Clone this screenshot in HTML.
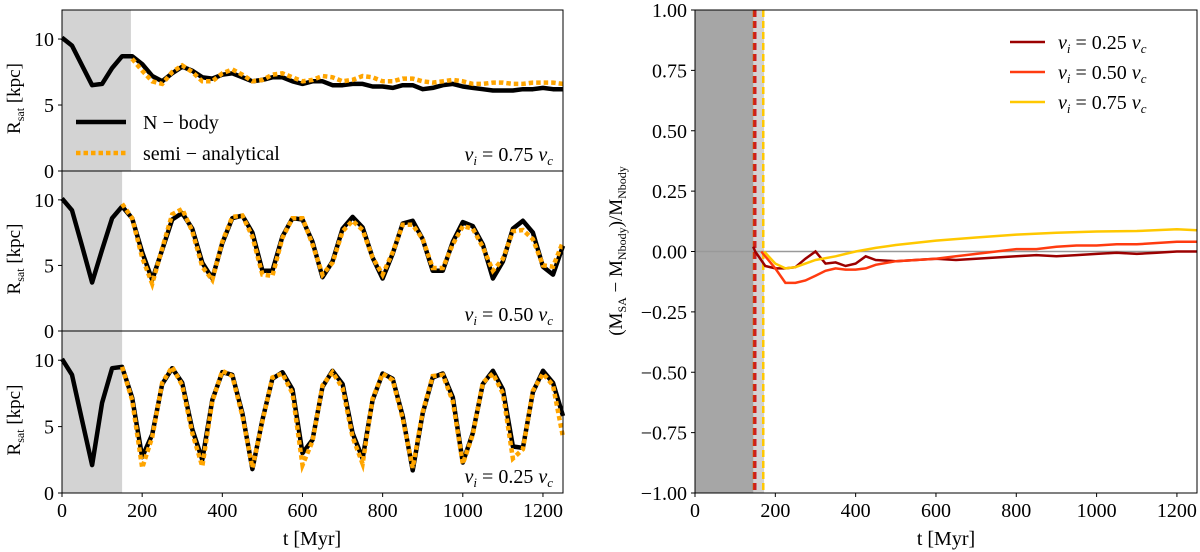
<!DOCTYPE html>
<html><head><meta charset="utf-8"><style>
html,body{margin:0;padding:0;background:#fff}
svg{display:block;font-family:"Liberation Serif",serif}
</style></head><body>
<svg id="fig" width="1200" height="552" viewBox="0 0 1200 552" xmlns="http://www.w3.org/2000/svg"></svg>
<script>
// ---- data ----
const tGrid = [0,25,50,75,100,125,150,175,200,225,250,275,300,325,350,375,400,425,450,475,500,525,550,575,600,625,650,675,700,725,750,775,800,825,850,875,900,925,950,975,1000,1025,1050,1075,1100,1125,1150,1175,1200,1225,1250];
const nbody075 = [10.1,9.5,8.0,6.5,6.6,7.8,8.7,8.7,8.1,7.2,6.8,7.4,7.9,7.6,7.1,7.0,7.3,7.4,7.1,6.8,6.9,7.1,7.1,6.8,6.6,6.8,6.8,6.5,6.5,6.6,6.6,6.4,6.4,6.3,6.5,6.5,6.2,6.3,6.5,6.6,6.4,6.3,6.2,6.1,6.1,6.1,6.2,6.2,6.3,6.2,6.2];
const sa075 = [null,null,null,null,null,null,null,8.5,7.6,6.8,6.6,7.5,8.0,7.5,6.8,6.8,7.4,7.7,7.3,6.8,6.9,7.3,7.4,7.1,6.8,6.9,7.2,7.1,6.8,6.9,7.2,7.1,6.8,6.8,7.0,7.0,6.8,6.7,6.8,6.9,6.8,6.6,6.6,6.7,6.7,6.6,6.6,6.7,6.7,6.7,6.6];
const nbody050 = [10.1,9.2,6.5,3.7,6.2,8.6,9.5,8.6,6.0,3.9,6.2,8.5,9.0,7.8,5.2,4.0,6.7,8.6,8.8,7.5,4.6,4.6,7.2,8.6,8.5,6.8,4.1,5.3,7.8,8.7,7.9,5.6,4.0,5.9,8.2,8.4,7.0,4.6,4.6,6.8,8.3,8.0,6.6,4.0,5.3,7.8,8.4,7.5,4.9,4.3,6.5];
const sa050 = [null,null,null,null,null,null,9.7,8.6,5.6,3.6,6.3,8.9,9.3,7.6,4.9,3.9,6.8,8.7,8.8,7.2,4.3,4.2,7.1,8.6,8.6,6.6,4.3,5.2,7.6,8.4,7.7,5.6,4.3,6.0,8.1,8.1,7.0,4.8,4.8,6.6,8.0,7.8,6.4,4.6,5.5,7.6,7.7,7.0,5.0,4.9,6.8];
const nbody025 = [10.1,8.9,5.5,2.1,6.8,9.4,9.5,7.2,2.7,4.4,8.2,9.4,8.3,4.8,2.5,7.0,9.1,8.9,6.0,1.8,5.5,8.6,9.1,7.8,3.0,4.0,8.0,9.2,8.2,4.5,2.6,7.0,9.0,8.6,5.8,1.7,6.0,8.7,9.0,7.2,2.3,4.5,8.2,9.2,7.8,3.5,3.4,7.6,9.2,8.3,5.8];
const sa025 = [null,null,null,null,null,null,9.5,7.0,1.9,4.2,8.3,9.5,8.1,4.5,2.0,6.9,9.2,8.8,5.8,1.9,5.4,8.7,9.0,7.5,2.1,3.9,8.1,9.1,7.9,4.2,2.2,7.1,9.0,8.5,5.6,1.9,6.1,8.8,8.9,6.9,2.2,4.4,8.3,9.0,7.5,2.6,3.3,7.7,9.0,8.1,4.2];
const ticksX = [0,200,400,600,800,1000,1200];
const ticksYLeft = [0,5,10];
const ticksYRight = [-1,-0.75,-0.5,-0.25,0,0.25,0.5,0.75,1];
const tickLabelsRight = ["−1.00","−0.75","−0.50","−0.25","0.00","0.25","0.50","0.75","1.00"];
const t025 = [145,150,175,200,225,250,275,300,325,350,375,400,425,450,500,550,600,650,700,750,800,850,900,950,1000,1050,1100,1150,1200,1250];
const d025 = [0.02,0.0,-0.06,-0.07,-0.07,-0.065,-0.03,0.0,-0.05,-0.045,-0.06,-0.05,-0.02,-0.035,-0.04,-0.035,-0.03,-0.035,-0.03,-0.025,-0.02,-0.015,-0.02,-0.015,-0.01,-0.005,-0.01,-0.005,0.0,0.0];
const t050 = [165,200,225,250,275,300,325,350,375,400,425,450,500,550,600,650,700,750,800,850,900,950,1000,1050,1100,1150,1200,1250];
const d050 = [0.0,-0.07,-0.13,-0.13,-0.12,-0.1,-0.08,-0.07,-0.075,-0.075,-0.07,-0.055,-0.04,-0.035,-0.03,-0.02,-0.01,0.0,0.01,0.01,0.02,0.025,0.025,0.03,0.03,0.035,0.04,0.04];
const t075 = [172,200,225,250,275,300,350,400,450,500,600,700,800,900,1000,1100,1200,1250];
const d075 = [0.0,-0.05,-0.07,-0.065,-0.05,-0.035,-0.02,0.0,0.015,0.027,0.045,0.058,0.07,0.078,0.083,0.085,0.092,0.088];

// ---- helpers ----
const NS="http://www.w3.org/2000/svg";
const svg=document.getElementById('fig');
function mk(tag,attrs,parent,text){const e=document.createElementNS(NS,tag);for(const k in attrs)e.setAttribute(k,attrs[k]);if(text!==undefined)e.textContent=text;(parent||svg).appendChild(e);return e;}
const LX0=62, LX1=563;
const lx = t => LX0 + (t/1250)*(LX1-LX0);
const panels=[{top:10,bot:171,shade:172,nb:nbody075,sa:sa075,lab:"0.75"},{top:171,bot:331,shade:150,nb:nbody050,sa:sa050,lab:"0.50"},{top:331,bot:493,shade:150,nb:nbody025,sa:sa025,lab:"0.25"}];
const YMAX=12.2;
function pathFrom(ts,vs,fx,fy){let d="";let started=false;for(let i=0;i<ts.length;i++){const v=vs[i];if(v===null||v===undefined){started=false;continue;}d+=(started?"L":"M")+fx(ts[i]).toFixed(1)+","+fy(v).toFixed(1);started=true;}return d;}

panels.forEach((p,pi)=>{
  const g=mk('g',{});
  
  
  const ly=v=>p.bot-(v/YMAX)*(p.bot-p.top);
  const sh=mk('rect',{x:LX0,y:p.top,width:lx(p.shade)-LX0,height:p.bot-p.top,fill:'#d3d3d3'},g);
  
  
  const nb=mk('path',{d:pathFrom(tGrid,p.nb,lx,ly),fill:'none',stroke:'#000','stroke-width':4.5,'stroke-linejoin':'round'},g);
  
  
  const sa=mk('path',{d:pathFrom(tGrid,p.sa,lx,ly),fill:'none',stroke:'#ffa500','stroke-width':4.5,'stroke-dasharray':'4.5,3'},g);
  
  
  mk('rect',{x:LX0,y:p.top,width:LX1-LX0,height:p.bot-p.top,fill:'none',stroke:'#000','stroke-width':1},g);
  ticksYLeft.forEach(v=>{
    mk('line',{x1:LX0-4,x2:LX0,y1:ly(v),y2:ly(v),stroke:'#000'},g);
    const t=mk('text',{x:LX0-8,y:ly(v)+7,'text-anchor':'end','font-size':20},g,String(v));
    
    
  });
  const yl=mk('text',{transform:`translate(20,${(p.top+p.bot)/2+8}) rotate(-90)`,'text-anchor':'middle','font-size':19},g);
  yl.innerHTML='R<tspan font-size="12" dy="4">sat</tspan><tspan dy="-4"> [kpc]</tspan>';
  
  
  const an=mk('text',{x:553,y:p.bot-10,'text-anchor':'end','font-size':20},g);
  an.innerHTML='<tspan font-style="italic">v</tspan><tspan font-style="italic" font-size="13" dy="4">i</tspan><tspan dy="-4"> = '+p.lab+' </tspan><tspan font-style="italic">v</tspan><tspan font-style="italic" font-size="13" dy="4">c</tspan>';
  
  
});
ticksX.forEach(v=>{
  mk('line',{x1:lx(v),x2:lx(v),y1:493,y2:497,stroke:'#000'});
  const t=mk('text',{x:lx(v),y:517,'text-anchor':'middle','font-size':20},svg,String(v));
  
  
});
const xl=mk('text',{x:312,y:545,'text-anchor':'middle','font-size':20},svg,'t [Myr]');


// left legend
const lg=mk('g',{});


mk('line',{x1:76,x2:126,y1:122,y2:122,stroke:'#000','stroke-width':4.5},lg);
mk('text',{x:143,y:129,'font-size':20},lg,'N − body');
mk('line',{x1:76,x2:126,y1:153,y2:153,stroke:'#ffa500','stroke-width':4.5,'stroke-dasharray':'4.5,3'},lg);
mk('text',{x:143,y:160,'font-size':20},lg,'semi − analytical');

// ---- right panel ----
const RX0=695,RX1=1197,RY0=10,RY1=493;
const rx=t=>RX0+(t/1250)*(RX1-RX0);
const ry=v=>RY0+(1-v)/2*(RY1-RY0);
const rg=mk('g',{});


mk('rect',{x:RX0,y:RY0,width:rx(172)-RX0,height:RY1-RY0,fill:'#d3d3d3'},rg);
mk('rect',{x:RX0,y:RY0,width:rx(145)-RX0,height:RY1-RY0,fill:'#a6a6a6'},rg);
mk('line',{x1:RX0,x2:RX1,y1:ry(0),y2:ry(0),stroke:'#999','stroke-width':1.5},rg);
[[147,'#d43a00'],[150,'#cc1f1f'],[170,'#ffc800']].forEach(([t,c])=>{
  const l=mk('line',{x1:rx(t),x2:rx(t),y1:RY0,y2:RY1,stroke:c,'stroke-width':2.5,'stroke-dasharray':'7,4'},rg);
  
  
});
const series=[[t025,d025,'#9b0000','0.25'],[t050,d050,'#ff3b10','0.50'],[t075,d075,'#ffc800','0.75']];
series.forEach(([ts,ds,c,lab])=>{
  const p=mk('path',{d:pathFrom(ts,ds,rx,ry),fill:'none',stroke:c,'stroke-width':2.5},rg);
  
  
});
mk('rect',{x:RX0,y:RY0,width:RX1-RX0,height:RY1-RY0,fill:'none',stroke:'#000','stroke-width':1},rg);
ticksYRight.forEach((v,i)=>{
  mk('line',{x1:RX0-4,x2:RX0,y1:ry(v),y2:ry(v),stroke:'#000'},rg);
  const t=mk('text',{x:RX0-8,y:ry(v)+7,'text-anchor':'end','font-size':20},rg,tickLabelsRight[i]);
  
  
});
ticksX.forEach(v=>{
  mk('line',{x1:rx(v),x2:rx(v),y1:RY1,y2:RY1+4,stroke:'#000'},rg);
  const t=mk('text',{x:rx(v),y:517,'text-anchor':'middle','font-size':20},rg,String(v));
  
  
});
const rxl=mk('text',{x:946,y:545,'text-anchor':'middle','font-size':20},rg,'t [Myr]');


const ryl=mk('text',{transform:`translate(622,251) rotate(-90)`,'text-anchor':'middle','font-size':19},rg);
ryl.innerHTML='(M<tspan font-size="12" dy="4">SA</tspan><tspan dy="-4"> − M</tspan><tspan font-size="12" dy="4">Nbody</tspan><tspan dy="-4">)/M</tspan><tspan font-size="12" dy="4">Nbody</tspan>';


// right legend
const rl=mk('g',{});


series.forEach(([ts,ds,c,lab],i)=>{
  const y=42+i*30;
  mk('line',{x1:1010,x2:1045,y1:y,y2:y,stroke:c,'stroke-width':2.5},rl);
  const t=mk('text',{x:1058,y:y+7,'font-size':20},rl);
  t.innerHTML='<tspan font-style="italic">v</tspan><tspan font-style="italic" font-size="13" dy="4">i</tspan><tspan dy="-4"> = '+lab+' </tspan><tspan font-style="italic">v</tspan><tspan font-style="italic" font-size="13" dy="4">c</tspan>';
  
  
});
</script>
</body></html>
